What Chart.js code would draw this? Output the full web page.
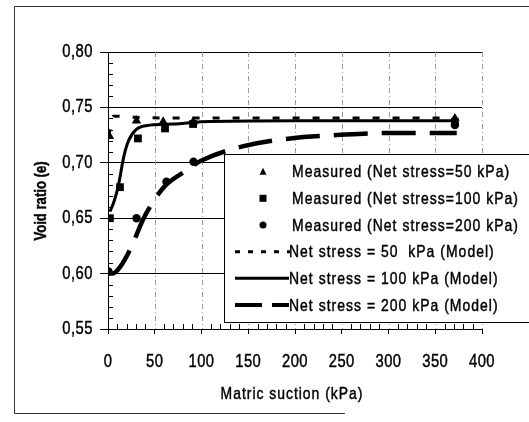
<!DOCTYPE html>
<html>
<head>
<meta charset="utf-8">
<script src="https://cdn.jsdelivr.net/npm/chart.js@4/dist/chart.umd.min.js"></script>
<style>
  html, body { margin: 0; padding: 0; background: #fff; }
  #wrap { position: relative; width: 529px; height: 422px; }
</style>
</head>
<body>
<div id="wrap"><canvas id="chart" width="529" height="422"></canvas></div>
<script>
// =========================
// Data
// =========================
const xTicks = [0, 50, 100, 150, 200, 250, 300, 350, 400];
const yTicks = [0.55, 0.60, 0.65, 0.70, 0.75, 0.80];

// measured points
const meas50X = [1.5, 30.5, 59, 91, 371];
const meas50Y = [0.724, 0.738, 0.737, 0.737, 0.740];
const meas100X = [2, 12.8, 32, 61, 91, 371];
const meas100Y = [0.650, 0.678, 0.722, 0.731, 0.735, 0.737];
const meas200X = [0.5, 30.5, 62.5, 91.5, 371];
const meas200Y = [0.602, 0.650, 0.683, 0.701, 0.734];

// model curves
const model50X = [1, 3, 5.5, 10, 30, 60, 100, 200, 300, 373];
const model50Y = [0.724, 0.735, 0.742, 0.742, 0.741, 0.7405, 0.7405, 0.7405, 0.7405, 0.7405];
const model100X = [2, 6, 11, 17, 22, 30, 45, 70, 100, 200, 300, 373];
const model100Y = [0.656, 0.664, 0.679, 0.706, 0.720, 0.730, 0.734, 0.735, 0.737, 0.738, 0.738, 0.738];
const model200X = [0, 5, 13, 25, 37, 50, 62, 80, 100, 145, 195, 245, 300, 373];
const model200Y = [0.600, 0.600, 0.606, 0.624, 0.648, 0.667, 0.680, 0.691, 0.702, 0.715, 0.722, 0.725, 0.727, 0.727];

const legendLabels = [
    "Measured (Net stress=50 kPa)",
    "Measured (Net stress=100 kPa)",
    "Measured (Net stress=200 kPa)",
    "Net stress = 50  kPa (Model)",
    "Net stress = 100 kPa (Model)",
    "Net stress = 200 kPa (Model)"
];

// no narrow font installed -> squeeze Liberation Sans horizontally
const FONT = "'Liberation Sans', Arial, sans-serif";
const SQUEEZE = 0.82;

function pts(xs, ys) {
    return xs.map((v, i) => ({ x: v, y: ys[i] }));
}

// =========================
// Drawing helpers
// =========================
function strokeLine(ctx, x1, y1, x2, y2) {
    ctx.beginPath();
    ctx.moveTo(x1, y1);
    ctx.lineTo(x2, y2);
    ctx.stroke();
}

function narrowText(ctx, text, x, y, align, font, spacing, angle) {
    ctx.save();
    ctx.font = font;
    ctx.letterSpacing = spacing + "px";
    ctx.textAlign = align;
    ctx.textBaseline = "middle";
    ctx.fillStyle = "#000";
    ctx.strokeStyle = "#000";
    ctx.lineWidth = 0.45;
    ctx.translate(x, y);
    if (angle) ctx.rotate(angle);
    ctx.scale(SQUEEZE, 1);
    ctx.fillText(text, 0, 0);
    ctx.strokeText(text, 0, 0); // a bit heavier, like the scan
    ctx.restore();
}

function marker(ctx, style, cx, cy) {
    ctx.fillStyle = "#000";
    ctx.beginPath();
    if (style === "triangle") {
        ctx.moveTo(cx, cy - 4);
        ctx.lineTo(cx + 3.5, cy + 3);
        ctx.lineTo(cx - 3.5, cy + 3);
        ctx.closePath();
    } else if (style === "rect") {
        ctx.rect(cx - 3.5, cy - 3.5, 7, 7);
    } else {
        ctx.arc(cx, cy, 3.5, 0, Math.PI * 2);
    }
    ctx.fill();
}

// =========================
// Plugin: minor ticks, dotted grid, labels, legend, frame
// =========================
const decor = {
    id: "decor",
    beforeDatasetsDraw(chart) {
        const { ctx, chartArea: a, scales: { x, y } } = chart;
        ctx.save();
        // vertical dash-dot grid
        ctx.strokeStyle = "#999";
        ctx.lineWidth = 1;
        ctx.setLineDash([5, 3, 1, 3]);
        xTicks.slice(1).forEach(v => {
            const px = Math.round(x.getPixelForValue(v)) + 0.5;
            strokeLine(ctx, px, a.top, px, a.bottom);
        });
        ctx.setLineDash([]);
        // minor ticks
        ctx.strokeStyle = "#000";
        for (let v = 10; v < 400; v += 10) {
            if (v % 50 === 0) continue;
            const px = Math.round(x.getPixelForValue(v)) + 0.5;
            strokeLine(ctx, px, a.bottom, px, a.bottom - 5);
        }
        for (let i = 56; i < 80; i++) {
            if (i % 5 === 0) continue;
            const py = Math.round(y.getPixelForValue(i / 100)) + 0.5;
            strokeLine(ctx, a.left, py, a.left + 5, py);
        }
        ctx.restore();
    },
    afterDraw(chart) {
        const { ctx, scales: { x, y } } = chart;
        ctx.save();

        // tick labels
        yTicks.forEach(v => {
            narrowText(ctx, v.toFixed(2).replace(".", ","), 93, y.getPixelForValue(v),
                "right", "18px " + FONT, 0.6);
        });
        xTicks.forEach(v => {
            narrowText(ctx, String(v), x.getPixelForValue(v), 362,
                "center", "18px " + FONT, 0.6);
        });

        // outer frame (cut off at the right)
        ctx.strokeStyle = "#333";
        ctx.lineWidth = 1;
        strokeLine(ctx, 14.5, 6.5, 529, 6.5);
        strokeLine(ctx, 14.5, 6.5, 14.5, 413.5);
        strokeLine(ctx, 14.5, 413.5, 345, 413.5);

        // legend box
        ctx.fillStyle = "#fff";
        ctx.fillRect(224, 154, 310, 168);
        ctx.strokeStyle = "#000";
        ctx.strokeRect(224.5, 154.5, 310, 168);

        const rowY = [171.7, 198.3, 225, 251.7, 278.3, 305];
        ["triangle", "rect", "circle"].forEach((s, i) => {
            marker(ctx, s, 263, rowY[i]);
            narrowText(ctx, legendLabels[i], 292, rowY[i] + 1, "left", "17px " + FONT, 1.25);
        });

        ctx.strokeStyle = "#000";
        ctx.lineCap = "butt";
        // 50 kPa model: short dashes
        ctx.lineWidth = 3;
        ctx.setLineDash([5, 8]);
        strokeLine(ctx, 235, rowY[3], 290, rowY[3]);
        // 100 kPa model: solid
        ctx.setLineDash([]);
        strokeLine(ctx, 235, rowY[4], 289, rowY[4]);
        // 200 kPa model: long dash
        ctx.lineWidth = 4;
        ctx.setLineDash([27, 10]);
        strokeLine(ctx, 235, rowY[5], 289, rowY[5]);
        ctx.setLineDash([]);
        for (let i = 3; i < 6; i++) {
            narrowText(ctx, legendLabels[i], 289, rowY[i] + 1, "left", "17px " + FONT, 1.25);
        }

        // axis titles
        narrowText(ctx, "Matric suction (kPa)", 292, 394, "center", "17px " + FONT, 1.2);
        narrowText(ctx, "Void ratio (e)", 42, 201, "center", "bold 16px " + FONT, 0, -Math.PI / 2);

        ctx.restore();
    }
};

// =========================
// Chart
// =========================
const ctx = document.getElementById("chart").getContext("2d");

new Chart(ctx, {
    type: "scatter",
    data: {
        datasets: [
            {
                label: legendLabels[0], data: pts(meas50X, meas50Y),
                pointStyle: "triangle", pointRadius: 5.5,
                backgroundColor: "#000", borderColor: "#000", borderWidth: 0
            },
            {
                label: legendLabels[1], data: pts(meas100X, meas100Y),
                pointStyle: "rect", pointRadius: 5.5,
                backgroundColor: "#000", borderColor: "#000", borderWidth: 0
            },
            {
                label: legendLabels[2], data: pts(meas200X, meas200Y),
                pointStyle: "circle", pointRadius: 4.2,
                backgroundColor: "#000", borderColor: "#000", borderWidth: 0
            },
            {
                label: legendLabels[3], data: pts(model50X, model50Y),
                showLine: true, pointRadius: 0, borderColor: "#000", borderWidth: 3,
                borderDash: [7, 13], cubicInterpolationMode: "monotone"
            },
            {
                label: legendLabels[4], data: pts(model100X, model100Y),
                showLine: true, pointRadius: 0, borderColor: "#000", borderWidth: 3,
                cubicInterpolationMode: "monotone"
            },
            {
                label: legendLabels[5], data: pts(model200X, model200Y),
                showLine: true, pointRadius: 0, borderColor: "#000", borderWidth: 4.5,
                borderDash: [34, 14], cubicInterpolationMode: "monotone"
            }
        ]
    },
    options: {
        responsive: false,
        animation: false,
        devicePixelRatio: 1,
        layout: { padding: { left: 0, right: 47, top: 52, bottom: 0 } },
        plugins: { legend: { display: false }, tooltip: { enabled: false } },
        scales: {
            x: {
                type: "linear", min: 0, max: 400,
                afterBuildTicks: s => { s.ticks = xTicks.map(v => ({ value: v })); },
                afterFit: s => { s.height = 93; },
                ticks: { display: false },
                grid: { drawOnChartArea: false, color: "#000", tickLength: 5 },
                border: { color: "#000", width: 1 }
            },
            y: {
                type: "linear", min: 0.55, max: 0.80,
                afterBuildTicks: s => { s.ticks = yTicks.map(v => ({ value: v })); },
                afterFit: s => { s.width = 108; },
                ticks: { display: false },
                grid: { color: "#000", tickLength: 8, lineWidth: 1 },
                border: { color: "#000", width: 1 }
            }
        }
    },
    plugins: [decor]
});
</script>
</body>
</html>
